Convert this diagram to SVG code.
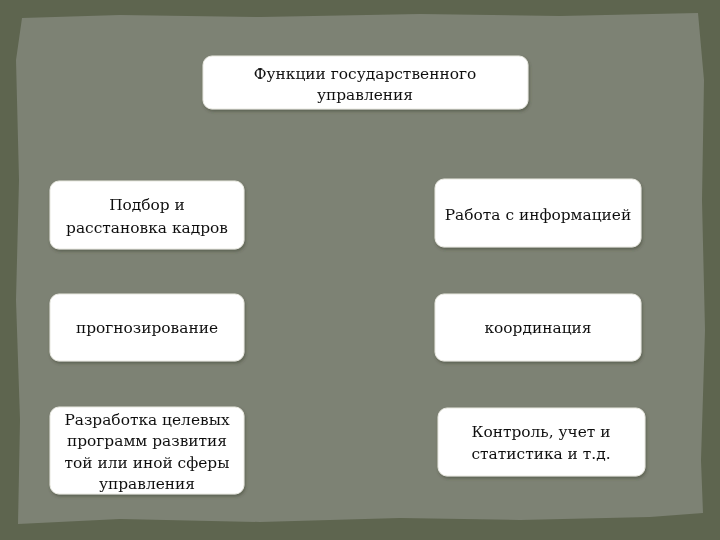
<svg xmlns="http://www.w3.org/2000/svg" width="720" height="540" viewBox="0 0 720 540">
<style>
.box{fill:#ffffff;stroke:#e8e8e0;stroke-width:1}
.t{font-family:"DejaVu Serif","Liberation Serif",serif;font-size:15.4px;fill:#111;text-anchor:middle}
</style>
<defs>
<filter id="sh" x="-10%" y="-10%" width="120%" height="130%">
<feDropShadow dx="1" dy="2" stdDeviation="1.5" flood-color="#3a3f33" flood-opacity="0.5"/>
</filter>
</defs>
<rect x="0" y="0" width="720" height="540" fill="#5e654f"/>
<path d="M22,18 L120,15 L260,17 L420,14 L560,16 L698,13 L704,80 L702,200 L705,330 L701,460 L703,513 L650,517 L520,520 L400,518 L260,522 L120,519 L18,524 L20,420 L16,300 L19,180 L16,60 Z" fill="#7d8274"/>
<g id="connectors"></g>
<g id="n0" filter="url(#sh)">
<rect class="box" x="203" y="56" width="325" height="53" rx="9"/>
<text class="t" x="365" y="79">Функции государственного</text>
<text class="t" x="365" y="100">управления</text>
</g>
<g id="n1" filter="url(#sh)">
<rect class="box" x="50" y="181" width="194" height="68" rx="9"/>
<text class="t" x="147" y="210">Подбор и</text>
<text class="t" x="147" y="233">расстановка кадров</text>
</g>
<g id="n2" filter="url(#sh)">
<rect class="box" x="435" y="179" width="206" height="68" rx="9"/>
<text class="t" x="538" y="220">Работа с информацией</text>
</g>
<g id="n3" filter="url(#sh)">
<rect class="box" x="50" y="294" width="194" height="67" rx="9"/>
<text class="t" x="147" y="333">прогнозирование</text>
</g>
<g id="n4" filter="url(#sh)">
<rect class="box" x="435" y="294" width="206" height="67" rx="9"/>
<text class="t" x="538" y="333">координация</text>
</g>
<g id="n5" filter="url(#sh)">
<rect class="box" x="50" y="407" width="194" height="87" rx="9"/>
<text class="t" x="147" y="425">Разработка целевых</text>
<text class="t" x="147" y="446">программ развития</text>
<text class="t" x="147" y="468">той или иной сферы</text>
<text class="t" x="147" y="489">управления</text>
</g>
<g id="n6" filter="url(#sh)">
<rect class="box" x="438" y="408" width="207" height="68" rx="9"/>
<text class="t" x="541" y="437">Контроль, учет и</text>
<text class="t" x="541" y="459">статистика и т.д.</text>
</g>
</svg>
